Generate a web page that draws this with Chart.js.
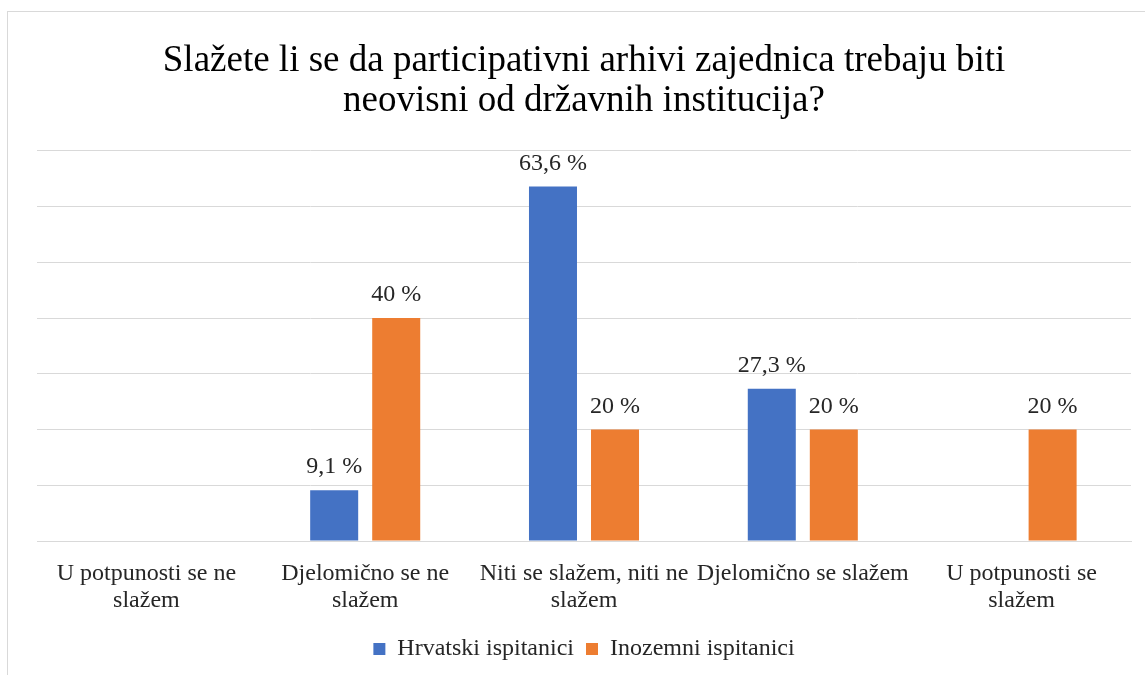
<!DOCTYPE html>
<html>
<head>
<meta charset="utf-8">
<script src="https://cdn.jsdelivr.net/npm/chart.js@4/dist/chart.umd.min.js"></script>
<style>
  html, body { margin: 0; padding: 0; background: #fff; }
  #box {
    position: absolute; left: 7px; top: 11px;
    width: 1150px; height: 680px;
    border: 1px solid #d9d9d9; box-sizing: border-box;
  }
  #wrap { position: absolute; left: 0; top: 0; width: 1138px; height: 664px; }
</style>
</head>
<body>
<div id="box"><div id="wrap"><canvas id="chart"></canvas></div></div>
<script>
const categories = [
  ["U potpunosti se ne", "slažem"],
  ["Djelomično se ne", "slažem"],
  ["Niti se slažem, niti ne", "slažem"],
  ["Djelomično se slažem"],
  ["U potpunosti se", "slažem"]
];
const hrvatski = [null, 9.1, 63.6, 27.3, null];
const inozemni = [null, 40, 20, 20, 20];
const seriesNames = ["Hrvatski ispitanici", "Inozemni ispitanici"];
const titleLines = [
  "Slažete li se da participativni arhivi zajednica trebaju biti",
  "neovisni od državnih institucija?"
];

const serif = "'Liberation Serif', 'Times New Roman', serif";

// draws the value labels above each bar
const barLabels = {
  id: "barLabels",
  afterDatasetsDraw(chart) {
    const ctx = chart.ctx;
    ctx.save();
    ctx.font = "24px " + serif;
    ctx.fillStyle = "#262626";
    ctx.textAlign = "center";
    ctx.textBaseline = "alphabetic";
    chart.data.datasets.forEach((ds, i) => {
      chart.getDatasetMeta(i).data.forEach((bar, j) => {
        const v = ds.data[j];
        if (v === null || v === undefined) return;
        const txt = String(v).replace(".", ",") + " %";
        ctx.fillText(txt, bar.x, bar.y - 17);
      });
    });
    ctx.restore();
  }
};

new Chart(document.getElementById("chart"), {
  type: "bar",
  data: {
    labels: categories,
    datasets: [
      { label: seriesNames[0], data: hrvatski, backgroundColor: "#4472c4",
        categoryPercentage: 0.567, barPercentage: 0.774 },
      { label: seriesNames[1], data: inozemni, backgroundColor: "#ed7d31",
        categoryPercentage: 0.567, barPercentage: 0.774 }
    ]
  },
  options: {
    responsive: true,
    maintainAspectRatio: false,
    animation: false,
    layout: { padding: { left: 29, right: 15, top: 14, bottom: 5 } },
    plugins: {
      title: {
        display: true,
        text: titleLines,
        color: "#000",
        font: { family: serif, size: 37, weight: "normal", lineHeight: 1.08 },
        padding: { top: 15, bottom: 30 }
      },
      legend: {
        position: "bottom",
        labels: {
          color: "#262626",
          font: { family: serif, size: 24 },
          boxWidth: 12, boxHeight: 12,
          padding: 12
        }
      },
      tooltip: { enabled: false }
    },
    scales: {
      x: {
        grid: { display: false },
        border: { color: "#d9d9d9", width: 1 },
        ticks: { color: "#262626", font: { family: serif, size: 24, lineHeight: 1.125 },
          maxRotation: 0, autoSkip: false, padding: 11 }
      },
      y: {
        min: 0, max: 70,
        ticks: { display: false, stepSize: 10 },
        grid: { color: "#d9d9d9", drawTicks: false },
        border: { display: false }
      }
    }
  },
  plugins: [barLabels]
});
</script>
</body>
</html>
